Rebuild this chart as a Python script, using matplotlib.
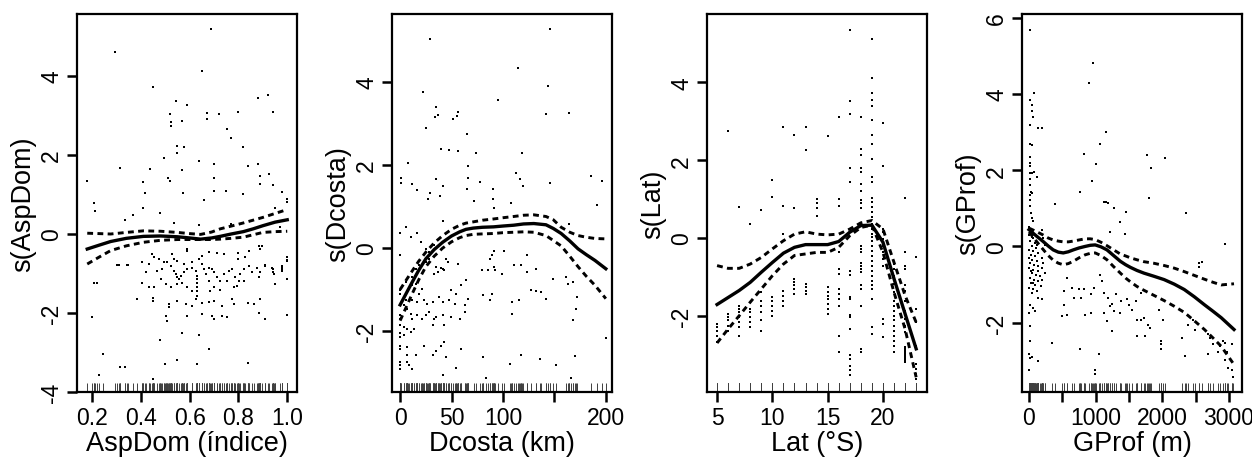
import numpy as np
import matplotlib
matplotlib.use("Agg")
import matplotlib.pyplot as plt

plt.rcParams['font.family'] = ['Liberation Sans', 'DejaVu Sans']

# ---- panel 1: AspDom ----
asp_pts = [
    (0.18, 1.33), (0.295, 4.62), (0.687, 5.18), (0.65, 4.12), (0.448, 3.72), (0.545, 3.38),
    (0.518, 3.04), (0.525, 2.83), (0.525, 2.73), (0.567, 2.85), (0.588, 3.27), (0.67, 3.07),
    (0.67, 2.92), (0.719, 3.03), (0.80, 3.09), (0.879, 3.45), (0.92, 3.51), (0.94, 3.10),
    (0.752, 2.66), (0.77, 2.43), (0.547, 2.24), (0.577, 2.20), (0.547, 2.05), (0.64, 1.84),
    (0.70, 1.76), (0.496, 1.92), (0.316, 1.67), (0.436, 1.65), (0.567, 1.61), (0.51, 1.42),
    (0.52, 1.33), (0.407, 1.31), (0.70, 1.41), (0.82, 2.20), (0.84, 1.73), (0.88, 1.78),
    (0.888, 1.48), (0.925, 1.52), (0.888, 1.27), (0.94, 1.24), (0.98, 1.06), (0.95, 0.65),
    (1.0, 0.89), (1.0, 0.80), (0.207, 0.79), (0.21, 0.58), (0.415, 1.03), (0.407, 0.65),
    (0.366, 0.47), (0.335, 0.36), (0.48, 0.52), (0.573, 1.03), (0.70, 1.10), (0.75, 1.10),
    (0.82, 1.01), (0.66, 0.85), (0.535, 0.28), (0.64, 0.23), (0.77, 0.25), (0.97, 0.17),
    (0.59, -0.38), (0.59, -0.42), (0.447, -0.51), (0.453, -0.59), (0.474, -0.63), (0.494, -0.72),
    (0.528, -0.51), (0.535, -0.63), (0.549, -0.68), (0.576, -0.76), (0.61, -0.72), (0.637, -0.63),
    (0.651, -0.55), (0.681, -0.45), (0.712, -0.47), (0.74, -0.51), (0.80, -0.47), (0.80, -0.63),
    (0.828, -0.59), (0.842, -0.42), (0.883, -0.30), (0.89, -0.38), (0.406, -0.72), (0.419, -0.97),
    (0.433, -0.76), (0.31, -0.79), (0.344, -0.79), (0.467, -0.93), (0.488, -0.89), (0.508, -0.72),
    (0.522, -0.80), (0.535, -0.93), (0.542, -1.01), (0.549, -1.10), (0.556, -1.14), (0.563, -1.06),
    (0.576, -0.97), (0.59, -0.89), (0.61, -0.85), (0.624, -0.93), (0.628, -1.06), (0.628, -1.14),
    (0.628, -1.23), (0.628, -1.33), (0.628, -1.44), (0.628, -1.56), (0.651, -0.76), (0.658, -0.89),
    (0.665, -1.01), (0.678, -0.85), (0.692, -0.89), (0.699, -0.97), (0.712, -1.10), (0.726, -1.18),
    (0.74, -1.01), (0.76, -0.93), (0.774, -0.89), (0.787, -1.10), (0.801, -1.18), (0.808, -1.01),
    (0.821, -0.89), (0.842, -0.80), (0.856, -0.97), (0.876, -0.85), (0.89, -0.97), (0.91, -0.80),
    (0.937, -0.85), (0.947, -1.01), (0.978, -0.89), (0.978, -0.80), (0.999, -0.68), (0.999, -1.14),
    (0.208, -1.25), (0.406, -1.23), (0.433, -1.33), (0.453, -1.35), (0.481, -1.14), (0.501, -1.27),
    (0.522, -1.35), (0.549, -1.27), (0.569, -1.23), (0.59, -1.35), (0.61, -1.44), (0.678, -1.18),
    (0.685, -1.44), (0.699, -1.35), (0.726, -1.41), (0.753, -1.18), (0.781, -1.35), (0.794, -1.31),
    (0.821, -1.18), (0.883, -1.10), (0.385, -1.65), (0.451, -1.63), (0.515, -1.78), (0.515, -1.86),
    (0.549, -1.69), (0.583, -1.78), (0.61, -1.82), (0.624, -1.65), (0.651, -1.75), (0.678, -1.73),
    (0.699, -1.69), (0.733, -1.82), (0.774, -1.65), (0.781, -1.78), (0.862, -1.78), (0.89, -1.65),
    (0.2, -2.11), (0.501, -2.07), (0.59, -2.07), (0.651, -2.03), (0.692, -2.07), (0.733, -2.07),
    (0.883, -1.99), (0.507, -2.20), (0.70, -2.14), (0.752, -2.10), (0.91, -2.16), (1.0, -2.05),
    (0.567, -2.51), (0.64, -2.56), (0.48, -2.69), (0.68, -2.92), (0.245, -3.05), (0.497, -3.28),
    (0.55, -3.20), (0.63, -3.30), (0.84, -3.26), (0.316, -3.37), (0.336, -3.37), (0.227, -3.56),
    (0.448, -3.66), (0.302, -0.79), (0.347, -0.79), (0.218, -1.25), (0.78, -1.78), (0.84, -1.75),
    (0.95, -1.27), (0.98, -0.83), (0.98, -0.93), (1.0, -1.14), (1.0, -0.59), (1.0, -0.66),
    (0.94, -0.89), (0.94, -0.97), (0.895, -0.30), (0.91, -0.79), (0.448, -1.69),
]
asp_fit_x = [0.18, 0.23, 0.276, 0.34, 0.41, 0.48, 0.55, 0.60, 0.645, 0.69, 0.725, 0.77, 0.82, 0.86, 0.90, 0.95, 1.0]
asp_fit = [-0.38, -0.28, -0.19, -0.11, -0.06, -0.05, -0.07, -0.10, -0.13, -0.10, -0.06, 0.0,
           0.06, 0.13, 0.21, 0.30, 0.36]
asp_hi = [0.02, 0.01, 0.0, 0.04, 0.08, 0.07, 0.04, 0.01, -0.01, 0.05, 0.13, 0.20,
          0.28, 0.35, 0.42, 0.52, 0.62]
asp_lo = [-0.76, -0.58, -0.42, -0.30, -0.21, -0.16, -0.14, -0.14, -0.14, -0.14, -0.13, -0.11,
          -0.08, -0.02, 0.04, 0.06, 0.07]

# ---- panel 2: Dcosta ----
dco_pts = [
    (29, 5.04), (145.7, 5.27), (115, 4.33), (22.4, 3.76), (143.8, 3.90), (94.7, 3.57),
    (34.9, 3.41), (33.6, 3.16), (37.2, 3.20), (55.9, 3.29), (55.3, 3.19), (51.3, 3.10),
    (24.7, 2.89), (141.4, 3.24), (164.5, 3.26), (65.1, 2.74), (39.5, 2.39), (48, 2.37),
    (55.9, 2.33), (74, 2.29), (118.4, 2.30), (7.6, 2.06), (66.4, 1.98), (66.4, 1.68),
    (0.7, 1.69), (0.7, 1.57), (11.5, 1.55), (16, 1.41), (34.5, 1.66), (42, 1.49),
    (28.6, 1.33), (27, 1.19), (38.5, 1.25), (65, 1.43), (78, 1.60), (71.7, 1.13),
    (90, 1.43), (90, 1.19), (90.8, 0.96), (107.6, 1.09), (112.8, 1.81), (116.8, 1.67),
    (119, 1.49), (145.7, 1.57), (186, 1.73), (191.4, 1.03), (196.7, 1.62), (163.8, 0.57),
    (0.3, 0.35), (5.3, 0.51), (10.2, 0.27), (16.8, 0.35), (20.1, 0.14), (0.3, -0.18),
    (25, -0.02), (28.3, -0.10), (33.2, 0.08), (38.2, 0.21), (41.4, 0.64), (25, -0.34),
    (28.3, -0.26), (34.9, -0.46), (41.4, -0.50), (44.7, -0.26), (46.4, -0.34), (56.3, -0.38),
    (33.2, -0.62), (36.5, -0.58), (39.8, -0.48), (43.1, -0.54), (15.1, -0.50), (18.4, -0.42),
    (11.8, -0.70), (6.9, -0.74), (5.3, -0.82), (11.8, -0.90), (15.1, -0.86), (21.7, -0.98),
    (18.4, -1.10), (13.5, -1.02), (0.3, -1.02), (0.3, -1.10), (5.3, -1.26), (11.8, -1.26),
    (16.8, -1.30), (23.4, -1.26), (26.6, -1.34), (31.6, -1.30), (38.2, -1.18), (41.4, -1.30),
    (48, -1.26), (53, -1.34), (62.8, -1.38), (66.1, -1.22), (49.7, -1.02), (54.6, -1.10),
    (59.5, -0.90), (64.5, -0.78), (79.3, -0.54), (85.9, -0.54), (92.4, -0.54), (90.8, -0.46),
    (99, -0.62), (89.1, -0.18), (87.5, -0.26), (90.8, -0.06), (100.7, -0.06), (110.5, -0.42),
    (117.1, -0.42), (123.7, -0.18), (123.7, -0.58), (131.9, -0.50), (148.4, -0.74), (161.5, -0.70),
    (163.2, -0.86), (168.1, -0.82), (127, -1.02), (131.9, -1.04), (136.8, -1.06), (141.8, -1.22),
    (115.5, -1.26), (108.9, -1.30), (80.9, -1.14), (89.1, -1.10), (87.5, -1.26), (108.9, -1.58),
    (171.4, -1.46), (172.4, -1.18), (168.1, -1.74), (3.6, -1.38), (6.9, -1.46), (10.2, -1.58),
    (11.8, -1.70), (16.8, -1.62), (21.7, -1.70), (25, -1.62), (28.3, -1.54), (33.2, -1.70),
    (34.9, -1.66), (41.4, -1.62), (49.7, -1.66), (57.9, -1.70), (62.8, -1.54), (0.3, -1.62),
    (0.3, -1.70), (0.3, -1.86), (3.6, -1.90), (6.9, -1.94), (10.2, -2.02), (13.5, -1.94),
    (0.3, -2.06), (0.3, -2.14), (3.6, -2.10), (0.3, -2.35), (0.3, -2.43), (6.9, -2.39),
    (23.4, -2.35), (31.6, -1.86), (43.1, -1.86), (39.8, -2.35), (43.1, -2.27), (59.5, -2.43),
    (34.9, -2.47), (6.9, -2.59), (15.1, -2.59), (31.6, -2.59), (44.7, -2.63), (0.3, -2.75),
    (0.3, -2.83), (0.3, -2.91), (6.9, -2.75), (8.6, -2.83), (11.8, -2.91), (54.6, -2.89),
    (80.9, -2.63), (107.2, -2.79), (117.1, -2.57), (135.9, -2.68), (151.6, -2.83), (169.7, -2.60),
    (200, -2.17), (41.4, -3.07), (83.2, -3.13), (166.4, -3.13),
]
dco_fit_x = [0, 6, 11.8, 18, 25, 33, 41.4, 50, 57.9, 64, 71, 80, 90.8, 100, 110.5, 120, 130,
             141.8, 149, 156.6, 165, 173, 181, 189.5, 200]
dco_fit = [-1.37, -1.09, -0.82, -0.54, -0.26, -0.04, 0.14, 0.29, 0.39, 0.45, 0.48, 0.50, 0.51,
           0.53, 0.55, 0.58, 0.59, 0.56, 0.47, 0.35, 0.17, -0.02, -0.16, -0.30, -0.50]
dco_hi = [-1.0, -0.77, -0.55, -0.32, -0.10, 0.12, 0.30, 0.45, 0.55, 0.60, 0.63, 0.67, 0.70,
          0.73, 0.76, 0.79, 0.80, 0.76, 0.68, 0.50, 0.38, 0.30, 0.26, 0.23, 0.22]
dco_lo = [-1.75, -1.42, -1.10, -0.77, -0.45, -0.20, 0.0, 0.15, 0.25, 0.30, 0.33, 0.34, 0.35,
          0.37, 0.38, 0.39, 0.38, 0.30, 0.18, 0.05, -0.20, -0.45, -0.68, -0.90, -1.22]

# ---- panel 3: Lat ----
lat_pts = [
    (5, -2.21), (5, -2.30), (5, -2.38), (5, -2.51), (5, -2.68),
    (6, -1.95), (6, -2.04), (6, -2.12), (6, -2.25), (6, -2.38), (6, 2.74),
    (7, -1.74), (7, -1.82), (7, -1.91), (7, -2.04), (7, -2.17), (7, -2.30), (7, -2.51), (7, 0.80),
    (8, -1.82), (8, -1.91), (8, -2.04), (8, -2.17), (8, -2.30), (8, 0.37),
    (9, -1.40), (9, -1.61), (9, -1.74), (9, -1.91), (9, -2.12), (9, -2.38), (9, 0.72),
    (10, -1.52), (10, -1.61), (10, -1.74), (10, -1.87), (10, -2.00), (10, 1.50), (10, 1.05),
    (11, -1.35), (11, -1.48), (11, -1.61), (11, -1.74), (11, 2.85), (11, 0.82), (11, 0.10),
    (12, -1.05), (12, -1.14), (12, -1.22), (12, -1.31), (12, -1.44), (12, 2.65), (12, 0.77),
    (13, -1.18), (13, -1.27), (13, -1.35), (13, -1.44), (13, 2.85), (13, 2.27),
    (14, 1.00), (14, 0.90), (14, 0.76), (14, 0.57),
    (15, -1.27), (15, -1.40), (15, -1.48), (15, -1.57), (15, -1.70), (15, -1.82), (15, -1.95), (15, 2.62),
    (16, -0.80), (16, -0.92), (16, -1.31), (16, -1.44), (16, -1.57), (16, -1.74), (16, -2.51),
    (16, -2.94), (16, 3.12), (16, 1.00), (16, 0.82), (16, -0.35),
    (17, 5.35), (17, 3.52), (17, 3.18), (17, 1.79), (17, 1.43), (17, -0.84), (17, -0.95),
    (17, -1.52), (17, -1.57), (17, -1.99), (17, -2.04), (17, -2.34), (17, -3.02), (17, -3.10),
    (17, -3.28), (17, -3.40), (17, -3.53),
    (18, 3.10), (18, 2.29), (18, 2.13), (18, 1.79), (18, 1.70), (18, 1.39), (18, 1.22), (18, 0.98),
    (18, 0.90), (18, 0.76), (18, 0.36), (18, -0.20), (18, -0.28), (18, -0.37), (18, -0.63),
    (18, -0.71), (18, -0.80), (18, -0.88), (18, -1.22), (18, -1.31), (18, -1.74), (18, -2.85),
    (18, -2.94),
    (19, 5.11), (19, 4.12), (19, 3.73), (19, 3.55), (19, 3.40), (19, 3.03), (19, 2.64), (19, 2.42),
    (19, 2.03), (19, 1.58), (19, 1.45), (19, 1.04), (19, 0.92), (19, 0.79), (19, 0.66), (19, 0.53),
    (19, 0.36), (19, 0.23), (19, 0.10), (19, 0.02), (19, -0.07), (19, -0.20), (19, -0.33),
    (19, -0.45), (19, -0.58), (19, -0.71), (19, -0.84), (19, -0.97), (19, -1.10), (19, -1.22),
    (19, -1.31), (19, -1.57), (19, -2.30), (19, -2.47),
    (20, 2.95), (20, 1.84), (20, 0.23), (20, 0.15), (20, -0.03), (20, -0.20), (20, -0.37),
    (20, -0.54), (20, -0.71), (20, -2.08), (20, -2.21), (20, -2.55),
    (21, -0.67), (21, -0.80), (21, -0.97), (21, -1.18), (21, -1.40), (21, -1.61), (21, -1.74),
    (21, -1.87), (21, -2.00), (21, -2.12), (21, -2.25), (21, -2.38), (21, -2.51), (21, -2.64),
    (21, -2.77), (21, -2.94),
    (22, 1.02), (22, -0.37), (22, -0.71), (22, -0.80), (22, -1.22), (22, -1.35), (22, -1.61),
    (22, -1.87), (22, -2.08), (22, -2.25), (22, -2.42), (22, -2.81), (22, -2.86), (22, -2.90),
    (22, -2.95), (22, -3.00), (22, -3.05), (22, -3.10), (22, -3.15), (22, -3.19),
    (23, -0.50), (23, -1.82), (23, -2.17), (23, -2.77), (23, -3.24), (23, -3.37), (23, -3.50),
    (23, -3.62),
]
lat_fit_x = list(range(5, 24))
lat_fit = [-1.71, -1.53, -1.35, -1.14, -0.88, -0.63, -0.39, -0.24, -0.17, -0.17, -0.17,
           -0.09, 0.15, 0.32, 0.33, -0.11, -1.05, -1.95, -2.85]
lat_hi = [-0.71, -0.78, -0.78, -0.67, -0.50, -0.28, -0.07, 0.10, 0.16, 0.10, 0.08,
          0.10, 0.23, 0.39, 0.45, 0.23, -0.63, -1.48, -2.17]
lat_lo = [-2.70, -2.34, -2.00, -1.65, -1.31, -0.97, -0.67, -0.45, -0.41, -0.37, -0.37,
          -0.24, 0.06, 0.27, 0.33, -0.37, -1.40, -2.34, -3.58]

# ---- panel 4: GProf ----
gpr_pts = [
    (15, 5.69), (958, 4.81), (897, 4.29), (81, 4.03), (15, 3.85), (40, 3.72), (50, 3.56),
    (40, 3.56), (66, 3.40), (15, 3.18), (131, 3.10), (202, 3.10), (1160, 3.01), (1059, 2.70),
    (15, 2.70), (40, 2.66), (822, 2.42), (1765, 2.40), (2047, 2.33), (15, 2.35), (1008, 2.16),
    (1830, 2.05), (15, 2.18), (15, 2.11), (15, 1.92), (40, 1.92), (76, 1.96), (116, 1.81),
    (938, 1.73), (15, 1.77), (15, 1.60), (30, 1.44), (40, 1.40), (771, 1.44), (15, 1.35),
    (1795, 1.26), (15, 1.22), (1150, 1.16), (15, 1.05), (25, 0.88), (40, 0.75), (66, 0.66),
    (393, 1.11), (1124, 1.16), (1190, 1.13), (1276, 1.00), (1462, 0.90), (1366, 0.64),
    (1442, 0.32), (1210, 0.39), (2360, 0.87), (2940, 0.06),
    (0, 0.52), (15, 0.44), (30, 0.39), (0, 0.31), (40, 0.26), (66, 0.22), (15, 0.13),
    (91, 0.09), (40, 0.0), (116, 0.04), (0, -0.09), (66, -0.13), (30, -0.22), (91, -0.26),
    (141, -0.17), (0, -0.31), (50, -0.35), (116, -0.39), (192, -0.31), (15, -0.44), (81, -0.48),
    (141, -0.52), (217, -0.44), (0, -0.57), (66, -0.61), (131, -0.65), (40, -0.70), (101, -0.74),
    (166, -0.78), (242, -0.70), (15, -0.83), (81, -0.87), (141, -0.92), (202, -0.87), (30, -0.96),
    (91, -1.00), (0, -1.09), (66, -1.13), (40, -1.22), (116, -1.18), (192, 0.44), (217, 0.22),
    (242, 0.04), (192, -0.57), (182, -1.05), (141, -1.35), (15, -1.53), (66, -1.61), (91, -1.70),
    (192, -1.39), (0, -1.74), (15, -2.09), (15, -2.48), (0, -2.83), (15, -2.92), (40, -2.90),
    (141, -3.00), (0, -3.23), (343, -2.53), (50, 0.30), (100, -0.05), (25, -0.65), (60, -0.95),
    (570, -0.83), (519, -1.18), (645, -1.09), (746, -1.11), (822, -1.12), (973, -1.09),
    (519, -1.54), (671, -1.35), (787, -1.35), (923, -1.26), (494, -1.83), (570, -1.79),
    (837, -1.79), (923, -1.74), (1059, -0.76), (1089, -0.92), (1124, -1.22), (1190, -1.35),
    (1240, -1.51), (1301, -1.25), (1210, -1.57), (1124, -1.74), (1276, -1.70), (1175, -1.96),
    (1366, -1.74), (1250, -2.22), (1376, -1.44), (1477, -1.39), (1502, -1.53), (1553, -1.66),
    (1603, -1.44), (1679, -1.22), (1628, -1.92), (1679, -1.92), (1729, -1.89), (1780, -2.05),
    (1820, -2.14), (1628, -2.35), (1739, -2.35), (1946, -1.66), (1982, -2.48), (1982, -2.57),
    (1982, -2.70), (2007, -1.92), (2294, -2.40), (2334, -2.88), (2385, -2.05), (2460, -1.92),
    (2486, -2.18), (2551, -0.44), (2551, -0.53), (2600, -0.40), (2687, -2.31), (2687, -2.83),
    (2712, -2.40), (2763, -2.57), (2839, -2.76), (2864, -2.61), (2914, -2.48), (2940, -2.53),
    (2940, -2.99), (2965, -2.76), (3040, -2.57), (2990, -3.18), (3040, -3.23), (3066, -3.43),
    (771, -2.70), (1049, -2.82), (988, -3.23), (988, -3.34),
]
gpr_fit_x = [0, 100, 212, 290, 363, 440, 514, 590, 665, 750, 842, 920, 993, 1080, 1170, 1270,
             1371, 1450, 1523, 1620, 1724, 1870, 2027, 2180, 2329, 2480, 2632, 2760, 2884, 3076]
gpr_fit = [0.44, 0.29, 0.13, 0.01, -0.09, -0.15, -0.17, -0.14, -0.09, -0.04, 0.0, 0.03, 0.04,
           -0.01, -0.09, -0.24, -0.39, -0.48, -0.55, -0.63, -0.70, -0.78, -0.87, -0.99, -1.13,
           -1.32, -1.53, -1.70, -1.87, -2.18]
gpr_hi = [0.48, 0.40, 0.30, 0.22, 0.17, 0.14, 0.12, 0.12, 0.14, 0.17, 0.20, 0.20, 0.18,
          0.11, 0.02, -0.09, -0.20, -0.25, -0.30, -0.35, -0.40, -0.44, -0.50, -0.57, -0.66,
          -0.76, -0.86, -0.94, -1.01, -0.98]
gpr_lo = [0.38, 0.16, -0.08, -0.24, -0.36, -0.44, -0.48, -0.45, -0.39, -0.30, -0.22, -0.18,
          -0.17, -0.24, -0.35, -0.53, -0.70, -0.83, -0.93, -1.05, -1.15, -1.28, -1.42, -1.57,
          -1.73, -1.95, -2.18, -2.40, -2.62, -3.10]

panels = [
    dict(pts=asp_pts, fx=asp_fit_x, f=asp_fit, hi=asp_hi, lo=asp_lo,
         xlim=(0.138, 1.04), ylim=(-4.0, 5.57), xt=[0.2, 0.4, 0.6, 0.8, 1.0],
         xtl=['0.2', '0.4', '0.6', '0.8', '1.0'], yt=[-4, -2, 0, 2, 4],
         xlabel='AspDom (índice)', ylabel='s(AspDom)', left=77),
    dict(pts=dco_pts, fx=dco_fit_x, f=dco_fit, hi=dco_hi, lo=dco_lo,
         xlim=(-7.9, 206), ylim=(-3.47, 5.64), xt=[0, 50, 100, 150, 200],
         xtl=['0', '50', '100', '', '200'], yt=[-2, 0, 2, 4],
         xlabel='Dcosta (km)', ylabel='s(Dcosta)', left=392),
    dict(pts=lat_pts, fx=lat_fit_x, f=lat_fit, hi=lat_hi, lo=lat_lo,
         xlim=(4.09, 23.98), ylim=(-3.96, 5.76), xt=[5, 10, 15, 20],
         xtl=['5', '10', '15', '20'], yt=[-2, 0, 2, 4],
         xlabel='Lat (°S)', ylabel='s(Lat)', left=707),
    dict(pts=gpr_pts, fx=gpr_fit_x, f=gpr_fit, hi=gpr_hi, lo=gpr_lo,
         xlim=(-105, 3196), ylim=(-3.82, 6.1), xt=[0, 500, 1000, 1500, 2000, 2500, 3000],
         xtl=['0', '', '1000', '', '2000', '', '3000'], yt=[-2, 0, 2, 4, 6],
         xlabel='GProf (m)', ylabel='s(GProf)', left=1022),
]

W, H = 1252, 460
fig = plt.figure(figsize=(W / 100, H / 100), dpi=100)

for p in panels:
    ax = fig.add_axes([p['left'] / W, (H - 393) / H, 220 / W, 378 / H])
    xs, ys = np.array(p['pts']).T
    ax.plot(xs, ys, 's', ms=2.0, mew=0, color='k')
    ax.vlines(xs, 0, 0.024, transform=ax.get_xaxis_transform(), colors='0.25', lw=0.7)
    ax.plot(p['fx'], p['f'], color='k', lw=2.4, solid_joinstyle='round')
    ax.plot(p['fx'], p['hi'], color='k', lw=2.1, ls=(0, (2, 1.5)))
    ax.plot(p['fx'], p['lo'], color='k', lw=2.1, ls=(0, (2, 1.5)))
    ax.set_xlim(*p['xlim'])
    ax.set_ylim(*p['ylim'])
    ax.set_xticks(p['xt'])
    ax.set_xticklabels(p['xtl'])
    ax.set_yticks(p['yt'])
    ax.set_yticklabels([str(v) for v in p['yt']], rotation=90, va='center')
    ax.tick_params(labelsize=16.5, length=7, width=1.8, direction='out', pad=3)
    for s in ax.spines.values():
        s.set_linewidth(1.6)
    ax.set_xlabel(p['xlabel'], fontsize=19.5, labelpad=1)
    ax.set_ylabel(p['ylabel'], fontsize=19.5, labelpad=3)

fig.savefig('out.png', dpi=100)
